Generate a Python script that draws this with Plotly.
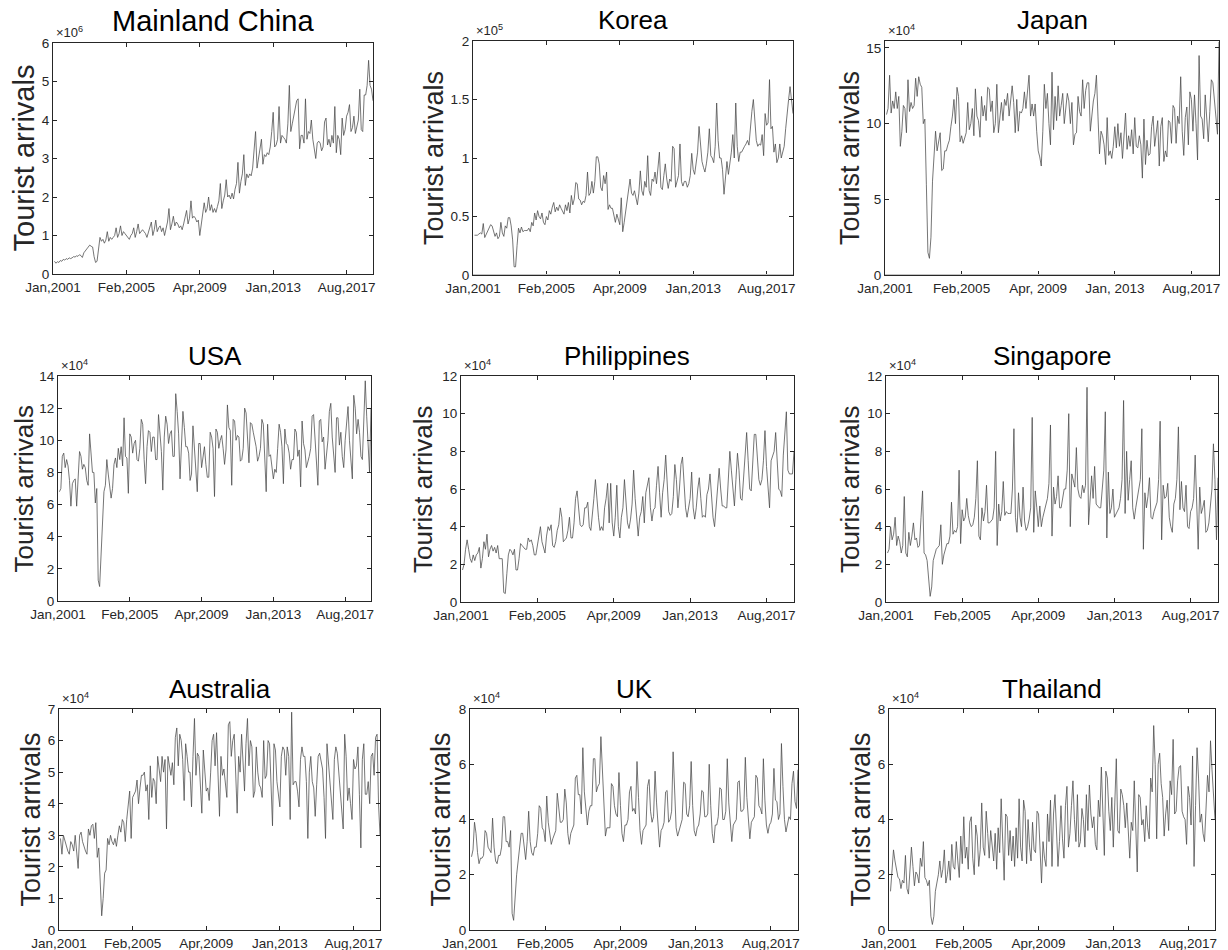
import plotly.graph_objects as go

# ---------------- data (monthly tourist arrivals, Jan 2001 onward; one row per year) ----------------
china = [  # x10^6
    0.33,0.28,0.32,0.30,0.35,0.33,0.38,0.36,0.40,0.38,0.42,0.40,
    0.42,0.45,0.44,0.47,0.46,0.50,0.48,0.43,0.55,0.62,0.65,0.70,
    0.75,0.72,0.70,0.45,0.30,0.33,0.60,0.95,0.85,0.90,0.80,0.88,
    1.10,0.85,0.95,0.90,0.95,1.00,1.20,0.95,1.05,1.25,1.00,1.10,
    1.05,1.00,0.95,0.90,1.00,1.05,1.20,0.95,1.10,1.30,1.05,1.10,
    1.15,1.10,1.05,0.95,1.10,1.20,1.35,1.00,1.15,1.40,1.10,1.20,
    1.25,1.10,1.20,1.00,1.20,1.35,1.70,1.15,1.30,1.50,1.25,1.35,
    1.30,1.20,1.25,1.15,1.30,1.45,1.65,1.30,1.45,1.90,1.45,1.50,
    1.45,1.35,1.40,1.00,1.30,1.50,1.85,1.60,1.70,2.00,1.65,1.80,
    1.60,1.70,1.60,1.75,1.90,2.35,1.70,1.90,2.05,2.45,2.00,2.05,
    1.95,2.10,1.95,2.20,2.35,2.90,2.10,2.40,2.60,3.10,2.30,2.60,
    2.50,2.60,2.55,2.75,3.20,3.70,2.75,3.00,3.20,3.50,2.85,3.10,
    3.05,3.15,3.10,3.30,3.70,4.20,3.30,3.35,3.50,4.35,3.40,3.60,
    3.55,3.50,3.40,3.90,4.90,3.70,3.90,4.10,4.30,4.50,4.55,3.25,
    3.60,3.60,3.40,4.55,3.50,3.70,3.65,4.00,3.50,3.20,3.00,3.40,
    3.45,3.40,3.20,3.30,3.95,4.05,3.35,3.50,3.30,3.60,3.40,4.35,
    3.15,3.60,3.50,3.10,4.05,3.60,3.75,4.10,4.20,4.40,3.70,3.80,
    4.10,3.65,3.80,4.00,4.80,3.75,3.70,4.65,4.65,4.90,5.55,4.90,
    4.80,4.50,
]
korea = [  # x10^5
    0.34,0.34,0.34,0.35,0.36,0.35,0.44,0.32,0.35,0.37,0.40,0.43,
    0.42,0.38,0.33,0.36,0.31,0.33,0.45,0.36,0.33,0.42,0.40,0.49,
    0.49,0.42,0.30,0.07,0.07,0.25,0.40,0.36,0.41,0.37,0.38,0.38,
    0.38,0.40,0.37,0.45,0.42,0.53,0.47,0.55,0.50,0.48,0.53,0.45,
    0.43,0.50,0.47,0.55,0.52,0.58,0.62,0.54,0.58,0.55,0.60,0.57,
    0.55,0.52,0.60,0.55,0.62,0.53,0.68,0.60,0.65,0.79,0.78,0.65,
    0.64,0.60,0.63,0.62,0.68,0.88,0.68,0.70,0.80,0.70,0.80,1.01,
    1.01,0.95,0.75,0.72,0.85,0.78,0.88,0.56,0.60,0.57,0.57,0.50,
    0.45,0.52,0.48,0.43,0.66,0.37,0.45,0.55,0.65,0.72,0.82,0.70,
    0.68,0.72,0.65,0.60,0.70,0.89,0.72,0.68,0.80,0.75,1.02,0.72,
    0.68,0.82,0.80,0.88,0.78,0.95,1.05,0.75,0.73,0.85,0.95,0.82,
    0.74,0.82,0.80,1.10,1.08,0.75,0.80,0.85,1.12,0.80,0.76,0.80,
    0.80,0.75,0.78,0.85,1.04,0.90,0.86,0.95,1.05,1.27,1.10,0.97,
    0.92,0.88,0.95,1.05,1.25,1.02,1.00,0.96,1.10,1.47,1.15,1.00,
    1.00,0.90,0.69,0.85,0.97,0.86,0.95,1.05,1.20,1.00,1.47,1.10,
    0.97,1.05,1.05,1.08,1.10,1.12,1.15,1.11,1.30,1.40,1.50,1.30,
    1.15,1.10,1.12,1.11,1.20,1.02,1.38,1.28,1.30,1.67,1.25,1.27,
    1.05,1.12,0.96,1.00,1.12,1.00,1.05,1.10,1.25,1.35,1.50,1.61,
    1.50,1.38,
]
japan = [  # x10^4
    10.6,11.0,13.2,10.7,11.5,11.0,12.1,11.0,11.8,8.5,9.5,11.2,
    11.0,9.4,12.9,10.8,11.4,11.0,11.2,13.0,11.8,13.1,12.6,12.4,
    10.0,10.3,6.0,1.5,1.1,2.5,6.2,8.0,9.5,8.2,8.8,9.4,
    6.9,7.0,8.2,8.2,8.6,8.9,9.8,10.5,11.6,10.0,12.4,11.8,
    8.8,9.2,8.7,9.0,9.4,11.4,9.6,10.0,11.0,9.2,12.3,10.5,
    10.2,9.1,11.8,10.5,11.2,10.2,12.4,12.3,10.8,11.5,9.4,10.0,
    12.6,9.4,10.6,11.4,10.2,11.6,11.2,12.0,10.5,11.4,12.5,11.4,
    9.4,11.6,9.5,10.8,10.7,11.0,12.1,11.0,12.0,13.2,10.5,11.3,
    10.5,11.3,9.5,8.2,7.8,7.2,9.5,12.6,11.0,12.0,10.0,8.6,
    13.4,9.6,11.8,10.2,12.5,10.5,11.2,12.0,10.0,11.0,12.0,11.5,
    10.0,11.4,8.6,9.3,9.4,11.8,10.8,10.5,12.9,11.0,12.2,12.7,
    12.7,9.5,10.5,11.5,12.0,13.2,10.5,8.0,9.5,9.2,8.6,7.3,
    10.4,7.9,8.2,7.7,8.5,9.8,8.4,10.0,8.5,9.4,7.7,9.0,
    10.7,8.3,9.2,8.5,9.6,8.0,10.4,8.5,8.4,9.2,8.6,6.4,
    10.3,7.3,8.9,7.9,8.0,9.8,10.5,8.5,9.2,10.2,7.2,9.8,
    10.4,7.5,8.2,7.8,10.2,10.1,8.7,11.2,11.0,8.7,10.5,10.0,
    13.1,9.5,7.9,10.4,11.1,8.6,12.1,11.6,9.5,11.9,10.0,7.6,
    14.5,10.5,10.3,9.0,11.9,10.5,8.8,10.8,12.9,12.7,11.5,10.1,
    9.3,15.4,
]
usa = [  # x10^4
    6.8,7.0,9.0,9.2,8.3,8.8,8.4,7.5,5.9,7.3,7.5,7.6,
    5.9,7.5,9.3,9.0,8.2,8.5,8.3,7.5,7.2,10.4,9.0,8.0,
    8.0,6.1,7.0,1.3,0.9,2.8,5.6,6.8,7.2,8.8,7.9,7.0,
    6.4,7.0,8.5,8.9,8.3,9.5,8.8,9.6,8.4,11.4,9.0,8.9,
    6.7,10.4,10.2,9.2,9.8,10.0,8.8,8.7,9.5,11.3,11.0,8.8,
    7.3,9.6,10.6,10.5,9.3,10.2,10.2,8.8,8.8,11.6,10.5,9.3,
    6.9,10.2,11.5,11.0,9.8,10.4,10.6,9.0,9.0,12.9,11.8,10.4,
    7.6,10.0,11.8,10.8,9.6,9.6,9.2,7.5,7.9,10.9,9.6,8.0,
    6.8,9.8,9.8,8.3,9.0,9.6,8.5,7.7,7.7,10.5,10.2,9.5,
    6.5,10.7,10.5,9.5,10.0,10.3,9.5,8.5,9.4,12.2,10.8,10.6,
    7.2,11.3,11.2,10.0,10.3,10.2,8.7,8.8,9.5,12.0,11.7,9.8,
    8.6,11.1,11.0,10.5,10.0,9.6,8.7,9.0,9.5,11.3,11.0,9.2,
    6.8,11.0,9.0,9.1,8.5,7.6,8.2,8.0,9.5,11.0,10.5,9.6,
    7.3,10.7,9.8,9.7,9.2,8.2,8.8,8.8,10.7,10.5,9.0,9.4,
    7.1,11.2,9.8,9.4,8.3,8.6,9.0,9.5,11.5,11.6,10.0,9.0,
    7.2,11.2,11.3,9.9,10.2,8.2,9.0,10.0,11.8,12.3,10.2,9.0,
    8.0,11.4,11.4,9.7,10.5,9.0,8.3,10.0,11.0,12.1,10.0,8.4,
    7.6,12.8,12.0,10.4,11.3,10.5,9.0,8.8,11.5,13.7,11.5,10.0,
    8.0,12.0,
]
philippines = [  # x10^4
    1.7,2.0,2.8,3.3,2.8,2.3,2.1,2.5,2.2,2.5,2.6,2.9,
    1.8,2.3,3.2,2.8,3.6,2.4,2.8,3.0,2.7,2.9,2.6,3.0,
    2.3,2.3,2.3,0.5,0.45,1.5,2.5,2.8,2.7,2.5,2.8,1.7,
    1.7,2.3,3.1,3.0,2.9,2.8,2.8,3.4,3.2,3.3,3.0,2.5,
    2.5,3.0,3.6,4.0,3.2,2.8,2.6,3.5,4.0,3.8,4.1,3.0,
    2.9,3.2,3.8,4.1,5.0,4.5,3.2,3.3,3.4,3.8,4.5,3.4,
    3.4,4.2,5.5,5.9,5.0,4.1,4.0,4.1,5.0,5.0,5.3,4.0,
    3.8,4.5,5.5,6.5,5.2,4.5,3.8,4.0,3.8,5.0,5.5,6.3,
    4.2,6.3,4.2,3.5,4.5,6.2,4.0,3.4,4.5,5.0,6.5,5.0,
    4.2,3.9,4.4,5.2,7.0,5.5,4.6,3.5,4.5,4.8,5.6,4.2,
    5.8,6.3,6.6,5.0,4.3,4.9,5.0,6.2,7.2,5.8,4.5,5.8,
    6.5,7.8,6.2,4.8,4.6,4.7,5.6,7.3,6.5,5.0,6.0,7.3,
    7.7,6.5,5.0,4.5,5.0,5.5,6.9,5.0,4.4,5.0,6.0,6.6,
    5.5,4.5,4.6,4.5,5.7,6.0,6.8,5.5,4.5,4.0,5.0,6.0,
    7.1,6.0,5.1,5.1,5.0,5.0,6.5,8.0,7.0,6.0,5.1,6.5,
    7.9,7.0,5.5,5.4,6.5,7.5,9.0,7.5,6.0,5.9,7.5,8.9,
    8.9,7.8,6.5,6.2,6.5,7.5,9.1,7.2,6.2,5.0,7.5,7.8,
    8.0,9.0,7.5,6.0,5.9,5.6,7.8,9.0,10.1,7.0,6.8,6.8,
    6.8,8.0,
]
singapore = [  # x10^4
    2.6,2.8,4.0,3.3,3.6,4.5,3.0,3.5,3.2,2.6,3.0,5.6,
    2.6,2.4,3.7,3.0,3.5,4.2,3.3,3.4,2.9,3.0,4.5,5.9,
    2.6,2.5,2.2,1.0,0.3,0.8,2.2,2.5,2.8,2.9,3.0,4.1,
    2.0,2.5,2.8,3.1,3.1,3.5,5.3,3.6,3.8,3.7,4.0,7.0,
    3.1,4.9,4.3,4.5,5.5,4.6,4.2,4.0,4.1,4.5,5.5,7.5,
    3.5,3.3,5.0,4.3,4.8,6.2,4.2,4.2,4.3,4.4,5.0,8.0,
    3.0,5.2,4.3,4.8,6.4,4.6,4.8,4.7,4.7,4.7,6.0,9.2,
    4.5,3.7,5.8,4.5,4.0,6.1,4.3,3.8,4.0,4.4,5.0,9.8,
    3.7,5.9,5.0,4.0,5.1,4.0,4.5,4.8,5.2,5.5,6.3,9.4,
    3.5,6.1,5.2,5.6,6.7,5.0,5.0,5.5,6.0,6.0,7.0,10.0,
    4.0,6.8,6.5,6.1,8.2,6.0,5.6,5.5,6.2,5.8,6.2,11.4,
    4.1,5.6,6.7,5.5,7.2,5.2,5.1,5.0,5.0,6.0,7.0,10.1,
    3.4,6.9,4.7,5.0,6.0,4.5,4.7,4.9,5.0,5.5,6.5,10.7,
    4.7,8.0,5.4,6.5,7.5,5.0,4.4,5.0,5.5,5.8,6.5,9.2,
    2.8,5.8,5.0,5.6,6.6,4.5,4.4,4.8,5.0,5.3,6.5,9.6,
    3.3,6.2,5.5,5.6,6.3,4.5,4.0,3.7,5.2,5.5,6.5,9.3,
    4.9,6.4,5.0,4.8,6.2,4.0,3.9,4.8,5.0,5.5,7.8,5.0,
    2.8,6.1,4.7,5.0,5.4,3.7,3.8,4.2,5.0,6.0,8.4,6.5,
    3.3,6.6,
]
australia = [  # x10^4
    2.9,2.4,3.0,2.8,2.6,2.5,2.4,2.8,2.7,2.5,3.0,2.5,
    1.95,3.0,3.1,2.8,2.6,2.5,2.4,3.2,3.0,3.3,3.35,2.9,
    3.4,2.3,2.6,1.5,0.45,1.0,1.8,1.9,2.9,2.7,3.0,2.8,
    2.7,2.9,2.65,3.0,3.3,3.1,3.5,3.4,2.8,3.5,4.0,4.4,
    2.9,4.2,4.3,4.4,4.75,4.0,4.5,4.9,4.9,5.0,4.4,4.6,
    3.5,5.2,4.2,4.8,4.7,4.0,5.5,5.0,4.7,5.5,5.0,5.4,
    3.2,5.5,5.2,4.9,5.3,4.6,6.1,6.4,5.2,6.2,6.0,5.4,
    4.1,5.9,5.5,5.0,5.0,3.9,5.5,6.7,4.9,5.6,5.5,4.5,
    3.7,5.7,5.0,4.4,4.5,4.1,5.0,6.0,6.2,5.2,6.25,4.6,
    3.6,5.5,4.9,5.1,4.7,4.2,6.5,6.6,5.5,6.0,6.2,5.0,
    3.7,5.5,5.0,6.2,5.2,4.4,5.9,6.7,5.2,6.0,5.8,4.2,
    4.4,5.8,5.0,4.6,4.5,4.2,6.0,4.8,4.9,6.0,5.9,4.5,
    3.3,5.9,5.7,4.7,4.3,3.9,5.5,5.8,5.7,4.9,5.8,5.5,
    3.5,6.9,4.6,4.7,4.7,4.4,3.9,5.4,5.8,5.5,5.5,4.7,
    2.9,5.0,5.5,4.7,4.5,3.6,4.6,5.5,5.6,5.3,5.1,4.2,
    2.9,5.9,5.3,4.8,4.3,3.5,5.4,5.8,5.6,5.0,4.7,4.0,
    3.2,6.2,5.5,4.1,4.5,4.0,3.5,5.4,5.1,5.2,5.8,4.3,
    2.6,5.4,5.9,4.3,4.3,4.7,4.0,5.5,5.6,4.9,6.1,6.2,
    4.0,3.0,
]
uk = [  # x10^4
    2.65,2.9,3.9,3.5,2.8,2.4,2.6,2.6,2.7,3.6,3.5,3.0,
    2.9,2.8,4.05,3.0,2.5,2.4,2.7,2.7,3.0,4.1,4.1,3.2,
    3.2,3.0,3.6,0.6,0.35,1.4,2.0,2.5,3.0,3.5,3.5,3.0,
    2.55,3.2,4.3,3.2,2.8,2.7,3.0,3.0,3.5,4.5,4.4,3.7,
    3.6,3.2,4.85,3.9,3.5,3.1,3.3,3.5,3.6,4.95,4.5,3.9,
    3.9,4.0,5.1,4.6,3.5,3.1,3.5,3.7,3.8,5.5,5.6,4.9,
    4.9,4.2,6.6,5.0,4.5,3.8,4.3,4.5,4.5,6.2,6.2,5.0,
    5.2,5.3,7.0,5.8,4.5,3.4,3.7,3.7,3.7,5.3,5.2,4.5,
    4.2,4.1,5.7,4.5,3.5,3.2,3.8,3.8,4.0,5.0,5.2,4.3,
    4.4,4.2,6.1,4.8,3.6,3.1,3.6,3.7,3.8,5.2,5.45,4.3,
    3.9,4.1,5.75,4.6,3.6,3.0,3.6,3.7,3.9,5.0,5.05,3.9,
    4.0,4.3,6.45,4.9,3.7,3.4,3.6,3.7,4.0,5.35,5.3,4.2,
    4.1,4.5,6.1,4.5,3.6,3.4,3.7,3.8,4.2,5.05,5.0,4.1,
    4.1,4.2,6.0,4.5,3.5,3.15,3.8,3.8,4.1,5.15,5.1,4.0,
    4.0,4.3,6.2,4.6,3.8,3.2,3.8,3.9,4.0,5.35,5.4,4.3,
    4.3,4.4,6.25,4.8,3.8,3.3,3.9,4.0,4.1,5.6,5.5,4.5,
    4.4,4.2,6.2,4.7,3.8,3.5,3.8,3.9,4.2,5.85,4.7,4.65,
    4.0,4.2,6.75,5.2,4.0,3.55,3.9,4.1,4.0,5.3,5.75,4.65,
    4.4,5.8,
]
thailand = [  # x10^4
    1.4,2.0,2.9,2.5,2.2,1.9,1.85,1.5,1.8,1.7,2.7,1.5,
    1.3,2.4,3.0,2.3,1.6,2.1,2.0,1.7,2.6,2.3,3.2,1.9,
    1.8,1.6,1.8,0.5,0.2,0.5,1.4,1.7,2.0,2.5,1.9,2.2,
    2.9,1.7,2.0,2.5,1.8,3.1,2.3,2.2,3.2,2.5,1.9,3.4,
    2.4,4.1,2.6,3.0,2.2,3.9,4.1,2.6,2.0,3.8,3.4,2.3,
    2.9,4.6,3.0,2.7,4.3,3.5,2.6,3.6,3.0,2.5,3.5,2.2,
    3.7,2.8,4.75,3.0,1.8,4.2,4.1,2.7,3.6,2.5,3.4,2.3,
    3.7,2.6,4.75,3.0,2.5,4.7,4.3,2.4,4.0,3.0,2.5,3.9,
    2.9,2.8,4.3,4.2,3.0,1.7,3.2,2.6,2.3,4.2,3.2,4.7,
    2.3,4.2,4.9,3.8,2.3,3.2,4.5,3.3,2.6,4.5,5.2,3.0,
    3.5,4.5,5.4,4.0,3.2,4.9,3.0,3.2,4.4,4.0,3.0,4.9,
    3.6,5.25,4.2,3.7,4.1,3.1,2.9,4.7,4.1,5.9,4.5,2.7,
    5.75,5.5,4.3,3.6,4.8,3.0,4.6,6.2,3.6,3.5,5.1,4.9,
    4.5,3.7,4.6,3.5,2.6,3.9,3.6,5.4,4.0,2.1,4.9,4.8,
    3.8,4.0,3.2,4.5,3.7,3.3,5.5,5.0,7.4,6.0,3.3,6.0,
    6.4,5.3,4.8,3.4,4.2,4.7,3.6,5.4,4.9,6.9,4.2,4.3,
    5.4,5.9,5.95,4.3,4.1,4.0,3.1,5.2,4.8,3.8,6.3,2.3,
    4.5,6.6,5.5,3.9,4.2,3.5,3.2,4.5,5.6,5.0,6.85,5.8,
    4.8,4.0,
]

x_tickvals = [0, 50, 100, 150, 200]
x_labels = ["Jan,2001", "Feb,2005", "Apr,2009", "Jan,2013", "Aug,2017"]
x_labels_japan = ["Jan,2001", "Feb,2005", "Apr, 2009", "Jan, 2013", "Aug,2017"]

panels = [
    # name, data, exponent, y range, y ticks, tick labels, xlabels, box px (x0,x1,y0,y1), ylabel x px, title size, ylabel size
    ("Mainland China", china, 6, [0, 6], [0,1,2,3,4,5,6], None, x_labels, (53, 373, 43, 274), 23, 29, 29),
    ("Korea", korea, 5, [0, 2], [0,0.5,1,1.5,2], ["0","0.5","1","1.5","2"], x_labels, (473, 793, 41, 275), 434, 26, 27),
    ("Japan", japan, 4, [0, 15.46], [0,5,10,15], None, x_labels_japan, (885, 1219, 41, 275), 850, 26, 27),
    ("USA", usa, 4, [0, 14], [0,2,4,6,8,10,12,14], None, x_labels, (58, 371, 376, 601), 23, 26, 26),
    ("Philippines", philippines, 4, [0, 12], [0,2,4,6,8,10,12], None, x_labels, (461, 794, 376, 602), 423, 26, 26),
    ("Singapore", singapore, 4, [0, 12], [0,2,4,6,8,10,12], None, x_labels, (886, 1218, 376, 602), 850, 26, 26),
    ("Australia", australia, 4, [0, 7], [0,1,2,3,4,5,6,7], None, x_labels, (59, 380, 709, 930), 30, 26, 27),
    ("UK", uk, 4, [0, 8], [0,2,4,6,8], None, x_labels, (470, 798, 709, 930), 440, 26, 27),
    ("Thailand", thailand, 4, [0, 8], [0,2,4,6,8], None, x_labels, (889, 1215, 709, 930), 860, 26, 27),
]

W, H = 1228, 950
AX = "#262626"
FONT = "Liberation Sans, Arial, sans-serif"

fig = go.Figure()
annotations = []
shapes = []

for k, (name, vals, expo, yr, ytv, ytt, xlab, box, ylx, tsize, ysize) in enumerate(panels, start=1):
    x0, x1, y0, y1 = box
    xa = "x" if k == 1 else f"x{k}"
    ya = "y" if k == 1 else f"y{k}"
    fig.add_trace(go.Scatter(
        x=list(range(1, len(vals) + 1)), y=vals, mode="lines",
        line=dict(color="#484848", width=0.75),
        xaxis=xa, yaxis=ya, showlegend=False, hoverinfo="skip"))
    common = dict(showline=True, linecolor=AX, linewidth=1, mirror="ticks",
                  ticks="inside", ticklen=4, tickcolor=AX, tickwidth=1,
                  showgrid=False, zeroline=False, automargin=False,
                  tickfont=dict(family=FONT, size=13.5, color=AX))
    fig.layout[f"xaxis{'' if k == 1 else k}"] = dict(
        domain=[x0 / W, x1 / W], anchor=ya, range=[0, 218],
        tickvals=x_tickvals, ticktext=xlab, ticklabelstandoff=1, **common)
    ykw = dict(domain=[1 - y1 / H, 1 - y0 / H], anchor=xa, range=yr, tickvals=ytv, **common)
    if ytt is not None:
        ykw["ticktext"] = ytt
    fig.layout[f"yaxis{'' if k == 1 else k}"] = ykw

    # title
    title_y = {43: 21, 41: 20, 376: 356, 709: 689}[y0]
    annotations.append(dict(
        text=name, x=(x0 + x1) / 2 / W, y=1 - title_y / H, xref="paper", yref="paper",
        xanchor="center", yanchor="middle", showarrow=False,
        font=dict(family=FONT, size=tsize, color="black")))
    # y label
    annotations.append(dict(
        text="Tourist arrivals", x=ylx / W, y=1 - ((y0 + y1) / 2) / H, xref="paper", yref="paper",
        xanchor="center", yanchor="middle", textangle=-90, showarrow=False,
        font=dict(family=FONT, size=ysize, color=AX)))
    # exponent label
    annotations.append(dict(
        text=f"×10<sup>{expo}</sup>", x=(x0 + 1) / W, y=1 - (y0 - 1) / H, xref="paper", yref="paper",
        xanchor="left", yanchor="bottom", showarrow=False,
        font=dict(family=FONT, size=13, color=AX)))
    # Korea and Japan have a light grey baseline over the bottom axis
    if name in ("Korea", "Japan"):
        shapes.append(dict(type="line", xref=xa, yref=ya, x0=0, x1=218, y0=0, y1=0,
                           line=dict(color="#c4c4c4", width=2), layer="above"))

fig.update_layout(
    width=W, height=H, margin=dict(l=0, r=0, t=0, b=0, autoexpand=False),
    paper_bgcolor="white", plot_bgcolor="white",
    annotations=annotations, shapes=shapes, showlegend=False,
    font=dict(family=FONT))

fig.write_html(
    "out.html",
    config={"displayModeBar": False},
    post_script="document.body.style.margin='0';document.body.style.overflow='hidden';",
)
